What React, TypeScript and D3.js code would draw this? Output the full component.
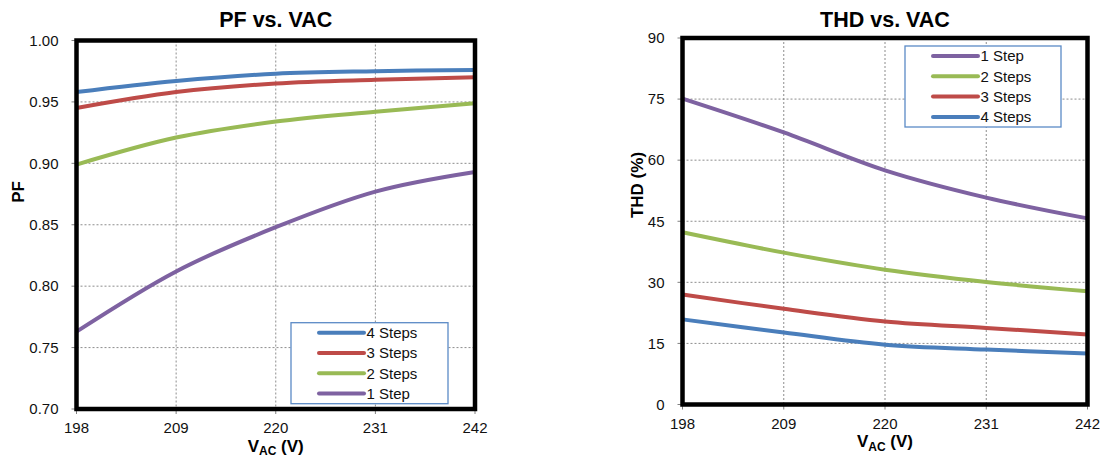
import { useEffect, useRef } from "react";
import * as d3 from "d3";

// x values (V AC) shared by both charts
const voltages = [198, 209, 220, 231, 242];

// PF vs. VAC
const pf4Steps = [0.958, 0.967, 0.973, 0.975, 0.976];
const pf3Steps = [0.945, 0.958, 0.965, 0.968, 0.970];
const pf2Steps = [0.899, 0.921, 0.934, 0.942, 0.949];
const pf1Step = [0.763, 0.812, 0.848, 0.877, 0.893];
const pfTicks = [0.7, 0.75, 0.8, 0.85, 0.9, 0.95, 1.0];

// THD vs. VAC (%)
const thd1Step = [75.1, 66.8, 57.5, 50.8, 45.7];
const thd2Steps = [42.3, 37.3, 33.1, 30.1, 27.8];
const thd3Steps = [27.0, 23.5, 20.4, 18.8, 17.2];
const thd4Steps = [20.9, 17.7, 14.7, 13.5, 12.5];
const thdTicks = [0, 15, 30, 45, 60, 75, 90];

const colors = {
  "1 Step": "#7e62a1",
  "2 Steps": "#99ba55",
  "3 Steps": "#be4b48",
  "4 Steps": "#4a7ebb",
};

type Series = { name: keyof typeof colors; values: number[] };

interface PanelCfg {
  title: string;
  yLabel: string;
  yLabelX: number;
  yLabelCenter: number;
  box: { left: number; right: number; top: number; bottom: number };
  yDomain: [number, number];
  yTicks: number[];
  yFormat: (v: number) => string;
  series: Series[];
  legend: { x: number; y: number; w: number; h: number };
}

const FONT = "'Liberation Sans', Arial, Helvetica, sans-serif";

function drawPanel(root: d3.Selection<SVGGElement, unknown, null, undefined>, cfg: PanelCfg) {
  const { left, right, top, bottom } = cfg.box;
  const x = d3.scaleLinear().domain([198, 242]).range([left, right]);
  const y = d3.scaleLinear().domain(cfg.yDomain).range([bottom, top]);
  const g = root.append("g");

  // grid
  const grid = g.append("g").attr("stroke", "#808080").attr("stroke-width", 0.9).attr("stroke-dasharray", "2,2");
  grid
    .selectAll("line.h")
    .data(cfg.yTicks.slice(1, -1))
    .join("line")
    .attr("x1", left)
    .attr("x2", right)
    .attr("y1", (d) => y(d))
    .attr("y2", (d) => y(d));
  grid
    .selectAll("line.v")
    .data(voltages.slice(1, -1))
    .join("line")
    .attr("y1", top)
    .attr("y2", bottom)
    .attr("x1", (d) => x(d))
    .attr("x2", (d) => x(d));

  // tick marks
  const ticks = g.append("g").attr("stroke", "#808080").attr("stroke-width", 1);
  ticks
    .selectAll("line.ty")
    .data(cfg.yTicks)
    .join("line")
    .attr("x1", left - 5)
    .attr("x2", left)
    .attr("y1", (d) => y(d))
    .attr("y2", (d) => y(d));
  ticks
    .selectAll("line.tx")
    .data(voltages)
    .join("line")
    .attr("x1", (d) => x(d))
    .attr("x2", (d) => x(d))
    .attr("y1", bottom)
    .attr("y2", bottom + 5);

  // tick labels
  g.append("g")
    .selectAll("text")
    .data(cfg.yTicks)
    .join("text")
    .attr("x", left - 18)
    .attr("y", (d) => y(d) + 5.3)
    .attr("text-anchor", "end")
    .attr("font-size", 15)
    .attr("fill", "#111")
    .text((d) => cfg.yFormat(d));
  g.append("g")
    .selectAll("text")
    .data(voltages)
    .join("text")
    .attr("x", (d) => x(d))
    .attr("y", bottom + 24)
    .attr("text-anchor", "middle")
    .attr("font-size", 15)
    .attr("fill", "#111")
    .text((d) => String(d));

  // series
  const line = d3
    .line<number>()
    .x((_, i) => x(voltages[i]))
    .y((d) => y(d))
    .curve(d3.curveCardinal.tension(0));
  const ordered = [...cfg.series].sort((a, b) => b.name.localeCompare(a.name));
  g.append("g")
    .selectAll("path")
    .data(ordered)
    .join("path")
    .attr("fill", "none")
    .attr("stroke", (d) => colors[d.name])
    .attr("stroke-width", 4)
    .attr("d", (d) => line(d.values));

  // frame
  g.append("rect")
    .attr("x", left)
    .attr("y", top)
    .attr("width", right - left)
    .attr("height", bottom - top)
    .attr("fill", "none")
    .attr("stroke", "#000")
    .attr("stroke-width", 4.5);

  // legend
  const lg = g.append("g").attr("transform", `translate(${cfg.legend.x},${cfg.legend.y})`);
  lg.append("rect")
    .attr("width", cfg.legend.w)
    .attr("height", cfg.legend.h)
    .attr("fill", "#fff")
    .attr("stroke", "#5b8ac6")
    .attr("stroke-width", 1.3);
  const rows = lg
    .selectAll("g.row")
    .data(cfg.series)
    .join("g")
    .attr("transform", (_, i) => `translate(0,${10 + i * 20.3})`);
  rows
    .append("line")
    .attr("x1", 28)
    .attr("x2", 73)
    .attr("stroke", (d) => colors[d.name])
    .attr("stroke-width", 4)
    .attr("stroke-linecap", "round");
  rows
    .append("text")
    .attr("x", 75.5)
    .attr("y", 5.4)
    .attr("font-size", 15)
    .attr("fill", "#111")
    .text((d) => d.name);

  // titles
  const cx = (left + right) / 2;
  g.append("text")
    .attr("x", cx)
    .attr("y", 26.5)
    .attr("text-anchor", "middle")
    .attr("font-size", 21.5)
    .attr("font-weight", "bold")
    .text(cfg.title);

  const xl = g
    .append("text")
    .attr("x", cx)
    .attr("y", bottom + 42.5)
    .attr("text-anchor", "middle")
    .attr("font-size", 17)
    .attr("font-weight", "bold");
  xl.append("tspan").text("V");
  xl.append("tspan").attr("font-size", 12).attr("dy", 3.5).text("AC");
  xl.append("tspan").attr("dy", -3.5).text(" (V)");

  g.append("text")
    .attr("transform", `translate(${cfg.yLabelX},${cfg.yLabelCenter}) rotate(-90)`)
    .attr("text-anchor", "middle")
    .attr("font-size", 17)
    .attr("font-weight", "bold")
    .text(cfg.yLabel);
}

export default function App() {
  const ref = useRef<SVGSVGElement | null>(null);

  useEffect(() => {
    if (!ref.current) return;
    const svg = d3.select(ref.current);
    svg.selectAll("*").remove();
    const root = svg.append("g").attr("font-family", FONT);

    drawPanel(root, {
      title: "PF vs. VAC",
      yLabel: "PF",
      yLabelX: 24,
      yLabelCenter: 192,
      box: { left: 76.5, right: 475, top: 40.5, bottom: 409 },
      yDomain: [0.7, 1.0],
      yTicks: pfTicks,
      yFormat: (v) => v.toFixed(2),
      series: [
        { name: "4 Steps", values: pf4Steps },
        { name: "3 Steps", values: pf3Steps },
        { name: "2 Steps", values: pf2Steps },
        { name: "1 Step", values: pf1Step },
      ],
      legend: { x: 291, y: 322.7, w: 157, h: 81 },
    });

    drawPanel(root, {
      title: "THD vs. VAC",
      yLabel: "THD (%)",
      yLabelX: 643,
      yLabelCenter: 185,
      box: { left: 682.5, right: 1087.5, top: 38, bottom: 404.5 },
      yDomain: [0, 90],
      yTicks: thdTicks,
      yFormat: (v) => String(v),
      series: [
        { name: "1 Step", values: thd1Step },
        { name: "2 Steps", values: thd2Steps },
        { name: "3 Steps", values: thd3Steps },
        { name: "4 Steps", values: thd4Steps },
      ],
      legend: { x: 905, y: 46, w: 156, h: 81 },
    });
  }, []);

  return (
    <svg
      ref={ref}
      width={1106}
      height={459}
      style={{ position: "absolute", left: 0, top: 0, background: "#fff" }}
      role="img"
      aria-label="PF and THD vs. VAC charts"
    />
  );
}
